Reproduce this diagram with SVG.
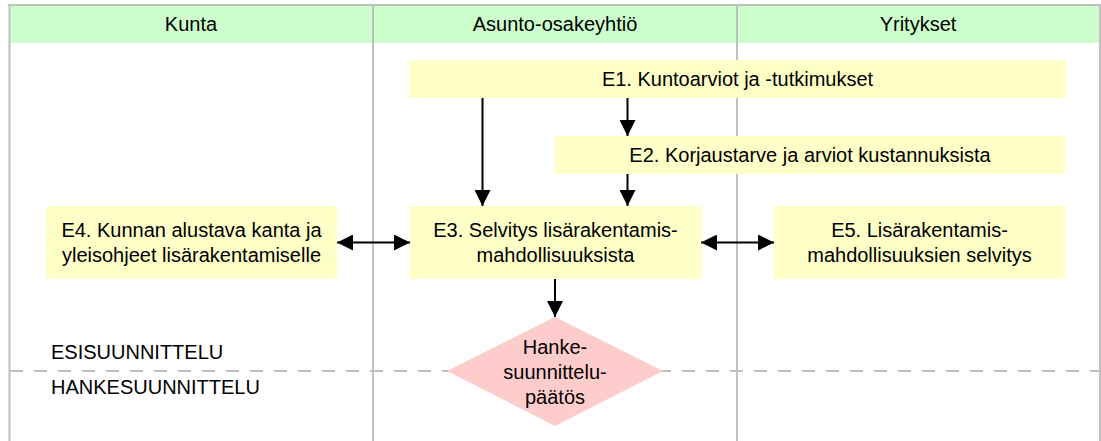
<svg xmlns="http://www.w3.org/2000/svg" width="1101" height="441" viewBox="0 0 1101 441">
<defs>
<marker id="ah" viewBox="0 0 10 10" refX="10" refY="5" markerWidth="8" markerHeight="8" orient="auto-start-reverse" markerUnits="strokeWidth"><path d="M0,0 L10,5 L0,10 Z" fill="#000"/></marker>
<style>
text{font-family:"Liberation Sans",Arial,sans-serif;font-size:20px;fill:#000}
.box{fill:#ffffc8}
.lane{stroke:#c0c0c0;stroke-width:2;fill:none}
.c{text-anchor:middle}
.arr{stroke:#000;stroke-width:2;fill:none;marker-end:url(#ah)}
.arr2{stroke:#000;stroke-width:2;fill:none;marker-end:url(#ah);marker-start:url(#ah)}
</style>
</defs>
<rect width="1101" height="441" fill="#fff"/>
<g id="lanes">
<rect x="9" y="6" width="1091" height="37" fill="#ccffcc"/>
<line class="lane" x1="8" y1="5" x2="1101" y2="5"/>
<line class="lane" x1="9.5" y1="4" x2="9.5" y2="441"/>
<line class="lane" x1="373" y1="5" x2="373" y2="441"/>
<line class="lane" x1="737" y1="5" x2="737" y2="441"/>
<line class="lane" x1="1100" y1="5" x2="1100" y2="441"/>
<text class="c" x="191" y="31">Kunta</text>
<text class="c" x="555" y="31">Asunto-osakeyhtiö</text>
<text class="c" x="918" y="31">Yritykset</text>
<line x1="10" y1="371" x2="1100" y2="371" stroke="#c0c0c0" stroke-width="2" stroke-dasharray="13,11"/>
<text x="51" y="359">ESISUUNNITTELU</text>
<text x="51" y="394">HANKESUUNNITTELU</text>
</g>
<g id="E1"><rect class="box" x="409" y="60" width="657" height="38"/><text class="c" x="737.5" y="86">E1. Kuntoarviot ja -tutkimukset</text></g>
<g id="E2"><rect class="box" x="555" y="136" width="510" height="38"/><text class="c" x="810" y="162">E2. Korjaustarve ja arviot kustannuksista</text></g>
<g id="E3"><rect class="box" x="410" y="206" width="291" height="73"/><text class="c" x="555.5" y="237">E3. Selvitys lisärakentamis-</text><text class="c" x="555.5" y="262">mahdollisuuksista</text></g>
<g id="E4"><rect class="box" x="46" y="206" width="291" height="73"/><text class="c" x="191.5" y="237">E4. Kunnan alustava kanta ja</text><text class="c" x="191.5" y="262">yleisohjeet lisärakentamiselle</text></g>
<g id="E5"><rect class="box" x="774" y="206" width="291" height="73"/><text class="c" x="919.5" y="237">E5. Lisärakentamis-</text><text class="c" x="919.5" y="262">mahdollisuuksien selvitys</text></g>
<g id="D"><polygon points="555,317 663,371 555,426 447,371" fill="#ffcccc"/><text class="c" x="555" y="354">Hanke-</text><text class="c" x="555" y="379">suunnittelu-</text><text class="c" x="555" y="404">päätös</text></g>
<g id="connectors">
<line class="arr" x1="482.5" y1="98" x2="482.5" y2="206"/>
<line class="arr" x1="627.5" y1="98" x2="627.5" y2="136"/>
<line class="arr" x1="627.5" y1="174" x2="627.5" y2="206"/>
<line class="arr" x1="555" y1="279" x2="555" y2="317"/>
<line class="arr2" x1="337" y1="242.5" x2="410" y2="242.5"/>
<line class="arr2" x1="701" y1="242.5" x2="774" y2="242.5"/>
</g>
</svg>
